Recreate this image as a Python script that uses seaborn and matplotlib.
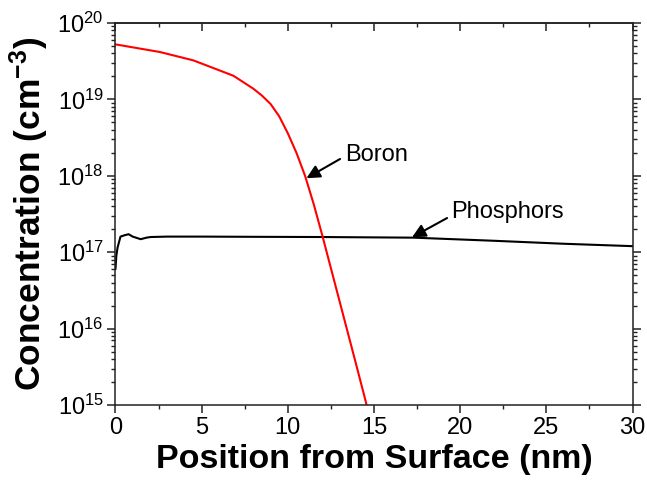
import numpy as np
import pandas as pd
import matplotlib
matplotlib.use("Agg")
import matplotlib.pyplot as plt
import seaborn as sns
from matplotlib.ticker import MultipleLocator, LogLocator, NullFormatter

# Boron profile (nm, cm^-3)
boron_x = [0, 2.58, 4.52, 6.84, 8.0, 8.5, 9.0, 9.5, 10.0, 10.5, 11.0, 11.5, 12.0, 13.0, 14.0, 14.54, 14.6]
boron_c = [5.25e19, 4.17e19, 3.24e19, 2.04e19, 1.38e19, 1.12e19, 8.7e18, 6.0e18, 3.6e18,
           2.0e18, 1.0e18, 4.27e17, 1.66e17, 2.29e16, 3.16e15, 1.07e15, 9.3e14]

# Phosphorus profile (nm, cm^-3)
phos_x = [0, 0.05, 0.12, 0.29, 0.5, 0.76, 1.0, 1.46, 1.8, 2.04, 3, 5, 8, 12, 17.3, 22, 26, 30]
phos_c = [6.0e16, 9.0e16, 1.15e17, 1.6e17, 1.66e17, 1.72e17, 1.6e17, 1.48e17, 1.55e17,
          1.58e17, 1.6e17, 1.6e17, 1.59e17, 1.58e17, 1.55e17, 1.41e17, 1.29e17, 1.2e17]

x_ticks = [0, 5, 10, 15, 20, 25, 30]

sns.set_style("ticks")
plt.rcParams["font.family"] = ["Liberation Sans", "DejaVu Sans"]
plt.rcParams["mathtext.fontset"] = "custom"
plt.rcParams["mathtext.rm"] = "Liberation Sans"
plt.rcParams["mathtext.bf"] = "Liberation Sans:bold"
plt.rcParams["mathtext.it"] = "Liberation Sans:italic"
plt.rcParams["text.color"] = "black"
plt.rcParams["axes.labelcolor"] = "black"
plt.rcParams["xtick.color"] = "black"
plt.rcParams["ytick.color"] = "black"

boron = pd.DataFrame({"x": boron_x, "c": boron_c})
phos = pd.DataFrame({"x": phos_x, "c": phos_c})

fig = plt.figure(figsize=(6.47, 4.84), dpi=100)
ax = fig.add_axes([0.1785, 0.1632, 0.7991, 0.7893])

sns.lineplot(data=phos, x="x", y="c", color="black", linewidth=1.5, ax=ax)
sns.lineplot(data=boron, x="x", y="c", color="#ff0000", linewidth=1.5, ax=ax)

ax.set_yscale("log")
ax.set_xlim(0, 30)
ax.set_ylim(1e15, 1e20)
ax.set_xticks(x_ticks)
ax.xaxis.set_minor_locator(MultipleLocator(2.5))
ax.yaxis.set_major_locator(LogLocator(base=10, numticks=10))
ax.yaxis.set_minor_locator(LogLocator(base=10, subs=np.arange(2, 10), numticks=20))
ax.yaxis.set_minor_formatter(NullFormatter())

for s in ax.spines.values():
    s.set_linewidth(1.1)
    s.set_color("#222222")

ax.tick_params(axis="both", which="major", direction="out", length=5.5, width=1.1,
               labelsize=17, color="#222222", pad=3)
ax.tick_params(axis="both", which="minor", direction="out", length=3, width=1.0, color="#222222")
ax.tick_params(axis="y", which="both", right=True)

top = ax.secondary_xaxis("top")
top.set_xticks(x_ticks)
top.xaxis.set_minor_locator(MultipleLocator(2.5))
top.tick_params(axis="x", which="major", direction="in", length=5.5, width=1.1,
                labeltop=False, color="#222222")
top.tick_params(axis="x", which="minor", direction="in", length=3, width=1.0, color="#222222")
top.spines["top"].set_linewidth(1.1)
top.spines["top"].set_color("#222222")

ax.set_xlabel("Position from Surface (nm)", fontsize=24.5, fontweight="bold", labelpad=4)
ax.set_ylabel("Concentration (cm$^{\\mathbf{-3}}$)", fontsize=25.5, fontweight="bold", labelpad=5)

arrow = dict(arrowstyle="-|>", color="black", lw=1.5, mutation_scale=20, shrinkA=0, shrinkB=0)
ax.annotate("", xy=(11.08, 9.3e17), xytext=(13.03, 1.66e18), arrowprops=arrow)
ax.text(13.3, 1.86e18, "Boron", fontsize=17, ha="left", va="center")
ax.annotate("", xy=(17.21, 1.57e17), xytext=(19.24, 2.8e17), arrowprops=arrow)
ax.text(19.47, 3.4e17, "Phosphors", fontsize=17, ha="left", va="center")

fig.savefig("out.png", dpi=100)
